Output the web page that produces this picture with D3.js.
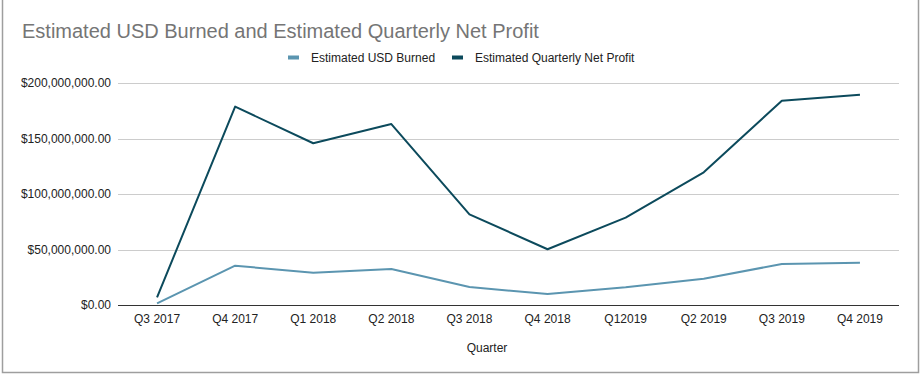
<!DOCTYPE html>
<html>
<head>
<meta charset="utf-8">
<script src="https://cdn.jsdelivr.net/npm/d3@7"></script>
<style>
  html, body { margin: 0; padding: 0; background: #fff; }
  svg { display: block; font-family: "Liberation Sans", Arial, sans-serif; }
</style>
</head>
<body>
<svg id="chart" width="923" height="377"></svg>
<script>
const quarters = ["Q3 2017", "Q4 2017", "Q1 2018", "Q2 2018", "Q3 2018", "Q4 2018", "Q12019", "Q2 2019", "Q3 2019", "Q4 2019"];
const usdBurned = [1500000, 35400000, 29100000, 32400000, 16200000, 9900000, 15900000, 23700000, 36900000, 38100000];
const netProfit = [6900000, 178700000, 145700000, 163000000, 81700000, 50200000, 78700000, 119500000, 184000000, 189500000];
const yTicks = [0, 50000000, 100000000, 150000000, 200000000];
const seriesNames = ["Estimated USD Burned", "Estimated Quarterly Net Profit"];
const seriesColors = ["#5b95b0", "#0c4a5c"];

const svg = d3.select("#chart");
const W = 923, H = 377;
const margin = { left: 118, right: 24, top: 83, bottom: 72 };

// frame
svg.append("rect").attr("x", 2.5).attr("y", -1).attr("width", 916).attr("height", 373.5)
  .attr("fill", "#fff").attr("stroke", "#9e9e9e").attr("stroke-width", 1.5);

const x = d3.scaleBand().domain(quarters).range([118, 899]);
const y = d3.scaleLinear().domain([0, 200000000]).range([305, 83]);

// gridlines
svg.append("g").selectAll("line").data(yTicks.filter(d => d > 0)).join("line")
  .attr("x1", 118).attr("x2", 899)
  .attr("y1", d => Math.round(y(d)) + 0.5).attr("y2", d => Math.round(y(d)) + 0.5)
  .attr("stroke", "#cccccc").attr("stroke-width", 1);

// y axis labels
const fmt = v => "$" + d3.format(",.2f")(v);
const yAxis = d3.axisLeft(y).tickValues(yTicks).tickFormat(fmt).tickSize(0).tickPadding(7);
const gy = svg.append("g").attr("transform", "translate(118,0)").call(yAxis);
gy.select(".domain").remove();
gy.selectAll("text").attr("font-size", 12).attr("fill", "#222").attr("font-family", "Liberation Sans, Arial, sans-serif");

// x axis
const xAxis = d3.axisBottom(x).tickSize(0).tickPadding(9);
const gx = svg.append("g").attr("transform", "translate(0,305)").call(xAxis);
gx.select(".domain").remove();
gx.selectAll("text").attr("font-size", 12).attr("fill", "#222").attr("font-family", "Liberation Sans, Arial, sans-serif");

// lines
const line = d3.line().x((d, i) => x(quarters[i]) + x.bandwidth() / 2).y(d => y(d));
[usdBurned, netProfit].forEach((s, k) => {
  svg.append("path").datum(s).attr("d", line).attr("fill", "none")
    .attr("stroke", seriesColors[k]).attr("stroke-width", 2).attr("stroke-linejoin", "round");
});

// baseline
svg.append("line").attr("x1", 118).attr("x2", 899).attr("y1", 305.5).attr("y2", 305.5)
  .attr("stroke", "#333").attr("stroke-width", 1);

// title
svg.append("text").attr("x", 22).attr("y", 38).attr("font-size", 20).attr("fill", "#757575")
  .text("Estimated USD Burned and Estimated Quarterly Net Profit");

// legend
const legendX = [288, 452];
seriesNames.forEach((n, k) => {
  svg.append("rect").attr("x", legendX[k]).attr("y", 55.5).attr("width", 11).attr("height", 4)
    .attr("fill", seriesColors[k]);
  svg.append("text").attr("x", legendX[k] + 23).attr("y", 62).attr("font-size", 12).attr("fill", "#222")
    .text(n);
});

// x axis title
svg.append("text").attr("x", 487).attr("y", 352).attr("text-anchor", "middle")
  .attr("font-size", 12).attr("fill", "#222").text("Quarter");
</script>
</body>
</html>
